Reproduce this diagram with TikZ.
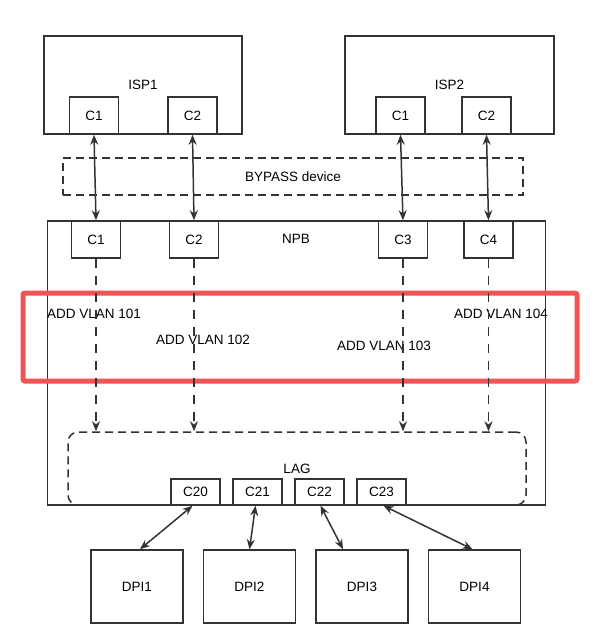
\documentclass[tikz,border=0pt]{standalone}
\usepackage{fontspec}
\setmainfont{Liberation Sans}
\usetikzlibrary{positioning, arrows.meta}
\definecolor{linegray}{RGB}{51, 51, 51}
\definecolor{markred}{RGB}{240, 84, 84}

\begin{document}
\begin{tikzpicture}[
  x=1pt, y=-1pt,
  font=\fontsize{13.5}{16}\selectfont,
  box/.style={rectangle, draw=linegray, line width=1.5pt, inner sep=0pt},
  port/.style={box, minimum width=49pt, minimum height=37pt},
  lagport/.style={box, minimum width=49pt, minimum height=26pt},
  dpi/.style={box, minimum width=92pt, minimum height=73pt},
  dashbox/.style={rectangle, draw=linegray, line width=1.5pt, dash pattern=on 8pt off 5pt, inner sep=0pt},
  arrow/.style={{Stealth[length=10pt,width=8pt]}-{Stealth[length=10pt,width=8pt]}, line width=1.5pt, linegray},
  dasharrow/.style={-{Stealth[length=10pt,width=8pt]}, line width=1.5pt, linegray, dash pattern=on 9pt off 8pt}
]
\useasboundingbox (0,0) rectangle (596,641);

% ISP boxes
\node[box, minimum width=198pt, minimum height=98pt] (isp1) at (143,85) {ISP1};
\node[box, minimum width=209pt, minimum height=98pt] (isp2) at (449.5,85) {ISP2};
\node[port] (isp1c1) at (94,115.5) {C1};
\node[port] (isp1c2) at (192.5,115.5) {C2};
\node[port] (isp2c1) at (400.5,115.5) {C1};
\node[port] (isp2c2) at (486.5,115.5) {C2};

% Bypass
\node[dashbox, minimum width=460pt, minimum height=37pt] (bypass) at (293,176.5) {BYPASS device};

% NPB
\node[box, minimum width=498pt, minimum height=284pt] (npb) at (296.5,363) {};
\node (npblabel) at (296,239) {NPB};
\node[port] (npbc1) at (96,239.5) {C1};
\node[port] (npbc2) at (194,239.5) {C2};
\node[port] (npbc3) at (403,239.5) {C3};
\node[port] (npbc4) at (488.5,239.5) {C4};

% VLAN rules
\node (vlan1) at (94,314) {ADD VLAN 101};
\node (vlan2) at (203,340) {ADD VLAN 102};
\node (vlan3) at (384,346) {ADD VLAN 103};
\node (vlan4) at (501,314) {ADD VLAN 104};
\draw[markred, line width=5pt, rounded corners=2pt] (23,293) rectangle (577,381);

% LAG
\node[dashbox, rounded corners=10pt, minimum width=458pt, minimum height=73pt] (lag) at (297,468.5) {LAG};
\node[lagport] (c20) at (195.5,492) {C20};
\node[lagport, right=11.5pt of c20] (c21) {C21};
\node[lagport, right=11.5pt of c21] (c22) {C22};
\node[lagport, right=11.5pt of c22] (c23) {C23};

% DPI
\node[dpi] (dpi1) at (137,586.5) {DPI1};
\node[dpi, right=19pt of dpi1] (dpi2) {DPI2};
\node[dpi, right=19pt of dpi2] (dpi3) {DPI3};
\node[dpi, right=19pt of dpi3] (dpi4) {DPI4};

% Arrows
\draw[arrow] (isp1c1.south) -- (npbc1.north);
\draw[arrow] (isp1c2.south) -- (npbc2.north);
\draw[arrow] (isp2c1.south) -- (npbc3.north);
\draw[arrow] (isp2c2.south) -- (npbc4.north);
\draw[dasharrow] (npbc1.south) -- (npbc1 |- lag.north);
\draw[dasharrow] (npbc2.south) -- (npbc2 |- lag.north);
\draw[dasharrow] (npbc3.south) -- (npbc3 |- lag.north);
\draw[dasharrow] (npbc4.south) -- (npbc4 |- lag.north);
\draw[arrow] ([xshift=-3pt]c20.south) -- ([xshift=3pt]dpi1.north);
\draw[arrow] ([xshift=-2pt]c21.south) -- (dpi2.north);
\draw[arrow] ([xshift=1pt]c22.south) -- ([xshift=-19pt]dpi3.north);
\draw[arrow] ([xshift=2pt]c23.south) -- ([xshift=-2pt]dpi4.north);

\end{tikzpicture}
\end{document}
